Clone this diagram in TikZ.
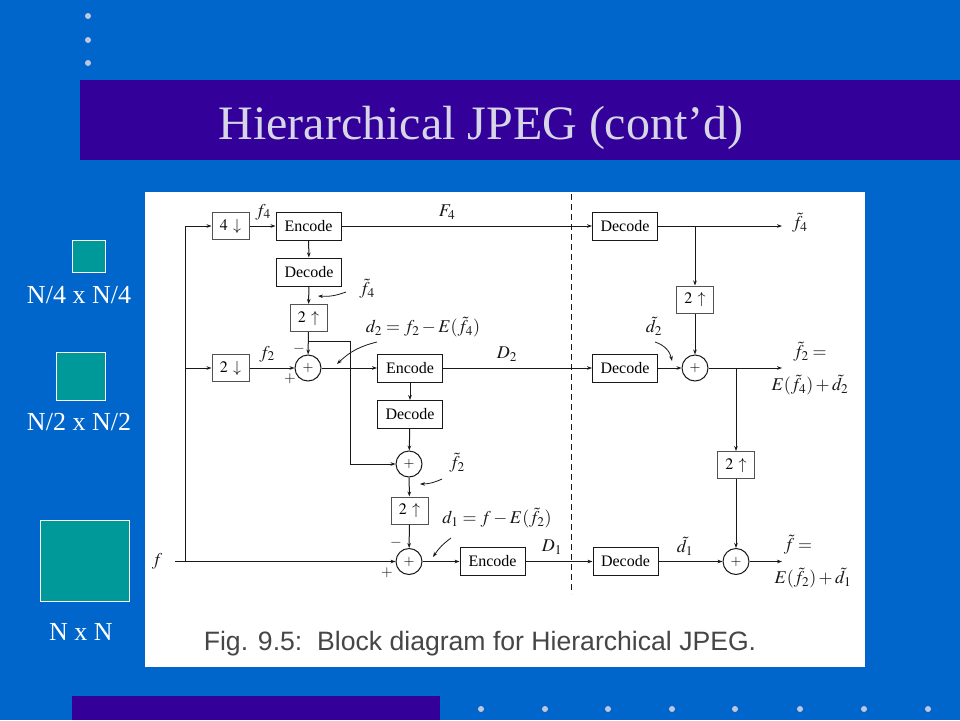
\documentclass[tikz,border=0pt]{standalone}
\usepackage{mathptmx}
\usepackage{fontspec}
\setmainfont{Liberation Serif}
\newfontfamily\titlefont{Liberation Serif}
\newfontfamily\capfont{Liberation Sans}
\usetikzlibrary{arrows.meta}
\definecolor{bgblue}{RGB}{0,102,204}
\definecolor{barpurple}{RGB}{51,0,153}
\definecolor{teal1}{RGB}{0,153,153}
\definecolor{titlecol}{RGB}{214,214,230}
\definecolor{dotcol}{RGB}{190,200,220}
\definecolor{capcol}{RGB}{70,70,70}
\definecolor{ink}{RGB}{25,25,25}
\tikzset{
  wire/.style={draw=ink, line width=1pt},
  arr/.style={wire, -{Stealth[length=5pt,width=3.6pt]}},
  blk/.style={draw=ink, line width=1pt, fill=white, rectangle, minimum width=65pt, minimum height=28pt, inner sep=0pt, font=\fontsize{16}{17}\selectfont},
  sblk/.style={blk, draw=ink!75, minimum width=37pt, minimum height=27pt},
  adder/.style={draw=ink, line width=1pt, circle, minimum size=26pt, inner sep=0pt, font=\fontsize{14}{15}\selectfont},
  lab/.style={inner sep=0pt, text=ink, font=\fontsize{18}{20}\selectfont},
  sgn/.style={inner sep=0pt, text=ink, font=\bfseries\fontsize{15}{16}\selectfont},
  sq/.style={draw=white, line width=0.8pt, fill=teal1},
  side/.style={text=white, font=\titlefont\fontsize{26}{28}\selectfont, inner sep=0pt},
  bul/.style={fill=dotcol, draw=none, circle, minimum size=6pt, inner sep=0pt}
}
\begin{document}
\begin{tikzpicture}[x=1pt,y=-1pt]
\useasboundingbox (0,0) rectangle (960,720);
\fill[bgblue] (0,0) rectangle (960,720);
% title bar
\fill[barpurple] (80,80) rectangle (960,160);
\node[text=titlecol, font=\titlefont\fontsize{48}{50}\selectfont, inner sep=0pt] (title) at (481,128) {Hierarchical JPEG (cont’d)};
% bullets
\node[bul] (b1) at (88,16) {};
\node[bul] (b2) at (88,40) {};
\node[bul] (b3) at (88,63) {};
% bottom bar and dots
\fill[barpurple] (72,696) rectangle (440,720);
\foreach \i/\x in {1/481,2/545,3/608,4/672,5/735,6/800,7/864,8/928} {\node[bul] (bd\i) at (\x,709) {};}
% side squares
\draw[sq] (72,240) rectangle (105,272);
\node[side] (l1) at (79,295) {N/4 x N/4};
\draw[sq] (56,352) rectangle (105,400);
\node[side] (l2) at (79,422) {N/2 x N/2};
\draw[sq] (40,520) rectangle (129,601);
\node[side] (l3) at (81,632) {N x N};
% white panel
\fill[white] (145,192) rectangle (865,667);
\node[text=capcol, font=\capfont\fontsize{26.6}{28}\selectfont, inner sep=0pt] (cap) at (480,644) {Fig. 9.5:\ \ Block diagram for Hierarchical JPEG.};
% dashed divider
\coordinate (dtop) at (571,194);
\coordinate (dbot) at (571,594);
\draw[ink, line width=1pt, dash pattern=on 6pt off 4pt] (dtop) -- (dbot);
% blocks
\node[sblk] (dn4) at (230.5,226) {$4\,\downarrow$};
\node[blk] (enc1) at (308.5,226) {Encode};
\node[blk] (dec1) at (309,272) {Decode};
\node[sblk] (up1) at (308.5,318) {$2\,\uparrow$};
\node[adder] (add1) at (308,368) {$+$};
\node[sblk] (dn2) at (230.5,368) {$2\,\downarrow$};
\node[blk] (enc2) at (410,368) {Encode};
\node[blk] (dec2) at (410,414.5) {Decode};
\node[adder] (add2) at (409,464) {$+$};
\node[sblk] (up2) at (409.5,510.5) {$2\,\uparrow$};
\node[adder] (add3) at (409,561.5) {$+$};
\node[blk] (enc3) at (492.5,561.5) {Encode};
\node[blk] (rdec1) at (625,226) {Decode};
\node[blk] (rdec2) at (625,368) {Decode};
\node[blk] (rdec3) at (625.5,561.5) {Decode};
\node[sblk] (rup1) at (695,299.5) {$2\,\uparrow$};
\node[adder] (radd1) at (695,368) {$+$};
\node[sblk] (rup2) at (736,465) {$2\,\uparrow$};
\node[adder] (radd2) at (736,561.5) {$+$};
% coordinates
\coordinate (jt) at (185,226);
\coordinate (jm) at (185,368);
\coordinate (jb) at (185,561.5);
\coordinate (fs) at (175,561.5);
\coordinate (k1) at (308.5,341);
\coordinate (k2) at (350,341);
\coordinate (r1) at (695,226);
\coordinate (r2) at (736,368);
\coordinate (o1) at (782,226);
\coordinate (o2) at (782,368);
\coordinate (o3) at (782,561.5);
% wires left
\draw[arr] (fs) -- (add3.west);
\draw[wire] (jb) -- (jt);
\draw[arr] (jt) -- (dn4.west);
\draw[arr] (jm) -- (dn2.west);
\draw[arr] (dn4) -- (enc1);
\draw[arr] (enc1) -- (rdec1);
\draw[arr] (enc1) -- (dec1);
\draw[arr] (dec1) -- (up1);
\draw[arr] (up1) -- (add1);
\draw[arr] (k1) -- (k2) |- (add2.west);
\draw[arr] (dn2) -- (add1);
\draw[arr] (add1) -- (enc2);
\draw[arr] (enc2) -- (rdec2);
\draw[arr] (enc2) -- (dec2);
\draw[arr] (dec2) -- (add2);
\draw[arr] (add2) -- (up2);
\draw[arr] (up2) -- (add3);
\draw[arr] (add3) -- (enc3);
\draw[arr] (enc3) -- (rdec3);
% wires right
\draw[arr] (rdec1) -- (o1);
\draw[arr] (r1) -- (rup1);
\draw[arr] (rup1) -- (radd1);
\draw[arr] (rdec2) -- (radd1);
\draw[arr] (radd1) -- (o2);
\draw[arr] (r2) -- (rup2);
\draw[arr] (rup2) -- (radd2);
\draw[arr] (rdec3) -- (radd2);
\draw[arr] (radd2) -- (o3);
% pointer arrows
\coordinate (p1s) at (346,292); \coordinate (p1e) at (318,296);
\draw[arr, line width=0.8pt] (p1s) to[bend left=12] (p1e);
\coordinate (p2s) at (377,342); \coordinate (p2e) at (337,364);
\draw[arr, line width=0.8pt] (p2s) to[bend right=15] (p2e);
\coordinate (p3s) at (442,479); \coordinate (p3e) at (420,484);
\draw[arr, line width=0.8pt] (p3s) to[bend left=12] (p3e);
\coordinate (p4s) at (451,538); \coordinate (p4e) at (433,557);
\draw[arr, line width=0.8pt] (p4s) to[bend right=10] (p4e);
\coordinate (p5s) at (655,342); \coordinate (p5e) at (672,361);
\draw[arr, line width=0.8pt] (p5s) to[bend left=30] (p5e);
% labels
\node[lab] (f4lab) at (263,212) {$f_4$};
\node[lab] (F4lab) at (447,212) {$F_4$};
\node[lab] (tf4lab) at (367,289) {$\tilde f_4$};
\node[lab] (d2lab) at (423,327) {$d_2 = f_2 - E(\tilde f_4)$};
\node[lab] (f2lab) at (267,354) {$f_2$};
\node[sgn] (mi1) at (299,349) {$-$};
\node[sgn] (pl1) at (290,379) {$+$};
\node[lab] (D2lab) at (507,354) {$D_2$};
\node[lab] (tf2lab) at (457,463) {$\tilde f_2$};
\node[lab] (d1lab) at (497,518) {$d_1 = f - E(\tilde f_2)$};
\node[sgn] (mi2) at (396,543) {$-$};
\node[sgn] (pl2) at (387,573) {$+$};
\node[lab] (flab) at (157,561) {$f$};
\node[lab] (D1lab) at (552,547) {$D_1$};
\node[lab] (td1lab) at (685,546) {$\tilde d_1$};
\node[lab] (td2lab) at (654,326) {$\tilde d_2$};
\node[lab, anchor=west] (tf4out) at (792,223) {$\tilde f_4$};
\node[lab] (tf2eq) at (810,352) {$\tilde f_2 =$};
\node[lab] (E4) at (810,385) {$E(\tilde f_4)+\tilde d_2$};
\node[lab] (tfeq) at (798,545) {$\tilde f =$};
\node[lab] (E2) at (813,578) {$E(\tilde f_2)+\tilde d_1$};
\end{tikzpicture}
\end{document}
